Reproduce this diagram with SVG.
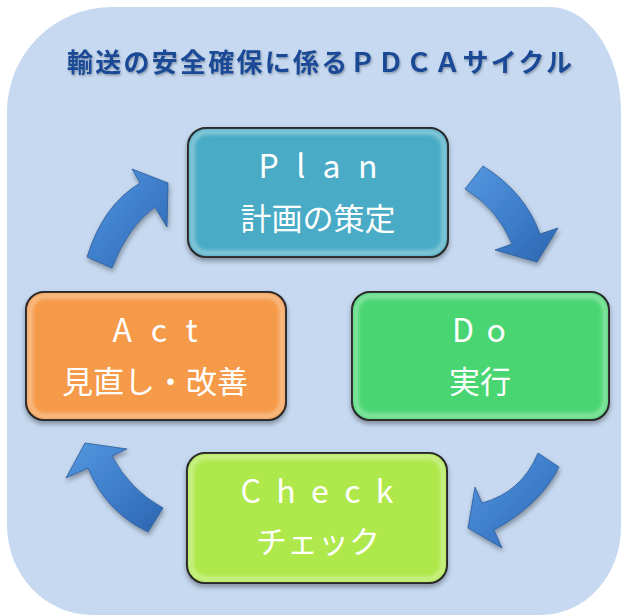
<svg xmlns="http://www.w3.org/2000/svg" width="622" height="615" viewBox="0 0 622 615">
<defs>
<style>
.lat{font-family:"Noto Sans CJK JP","Noto Sans",sans-serif;font-size:32px;fill:#fff;text-anchor:middle}
.jp{font-family:"Noto Sans CJK JP",sans-serif;font-size:31px;fill:#fff;text-anchor:middle}
.box{stroke:#1a1a1a;stroke-width:2}
.glow{fill:none;stroke:#fff;stroke-opacity:.45;stroke-width:4}
.hl{stroke-width:3.5;stroke-linecap:round}
.arrow{fill:url(#ag);stroke:#2a5a9a;stroke-width:.8;filter:url(#ash)}
</style>
<filter id="sh" x="-10%" y="-10%" width="120%" height="130%"><feDropShadow dx="0" dy="3" stdDeviation="2.5" flood-color="#000" flood-opacity=".35"/></filter>
<filter id="ash" x="-20%" y="-20%" width="140%" height="140%"><feDropShadow dx="1" dy="3" stdDeviation="2.5" flood-color="#000" flood-opacity=".35"/></filter>
<filter id="bl" x="-10%" y="-10%" width="120%" height="120%"><feGaussianBlur stdDeviation="2"/></filter>
<filter id="lg" x="-200%" y="-10%" width="500%" height="120%"><feGaussianBlur stdDeviation="1.5" result="b"/><feMerge><feMergeNode in="b"/><feMergeNode in="SourceGraphic"/></feMerge></filter>
<filter id="tsh"><feDropShadow dx="1" dy="1.5" stdDeviation="1" flood-color="#000" flood-opacity=".3"/></filter>
<linearGradient id="ag" x1="0" y1="0" x2="1" y2="1">
<stop offset="0" stop-color="#5597de"/><stop offset=".5" stop-color="#3f7fcc"/><stop offset="1" stop-color="#2c65b0"/>
</linearGradient>
</defs>
<path d="M7,112 A105,105 0 0 1 112,7 L550,7 A71,105 0 0 1 621,112 L621,527 A80,88 0 0 1 541,615 L92,615 A85,90 0 0 1 7,525 Z" fill="#c6d9f0"/>
<text x="319.5" y="72" font-family="'Noto Sans CJK JP',sans-serif" font-weight="bold" font-size="26" fill="#1a4a96" text-anchor="middle" textLength="505" lengthAdjust="spacing" filter="url(#tsh)">輸送の安全確保に係るＰＤＣＡサイクル</text>
<g id="connectors">
<path id="a-plan-do" class="arrow" d="M465,189 L483,166 Q525,192 540,234 L558,228 L537,262 L495,250 L512,244 Q497,208 465,189 Z"/>
<path id="a-do-check" class="arrow" d="M538,453 L559,467 Q540,505 494,530 L502,548 L468,528 L475,487 L482,503 Q522,492 538,453 Z"/>
<path id="a-check-act" class="arrow" d="M112,456 L127,449 L85,443 L66,478 L88,468 Q106,512 148,532 L163,508 Q130,490 112,456 Z"/>
<path id="a-act-plan" class="arrow" d="M87,257 Q103,205 140,183 L132,169 L168,183 L167,227 L155,207 Q128,226 112,268 Z"/>
</g>
<g id="plan">
<rect class="box" x="188" y="128" width="260" height="129" rx="18" fill="#4aabc5" filter="url(#sh)"/>
<rect class="glow" x="192" y="132" width="252" height="121" rx="15" filter="url(#bl)"/>
<line class="hl" x1="202" y1="145" x2="202" y2="237" stroke="#cffcff" filter="url(#lg)"/>
<line class="hl" x1="435" y1="152" x2="435" y2="240" stroke="#cffcff" filter="url(#lg)"/>
<text class="lat" x="318" y="178" textLength="119" lengthAdjust="spacing">Plan</text>
<text class="jp" x="318" y="230">計画の策定</text>
</g>
<g id="do">
<rect class="box" x="352" y="292" width="257" height="128" rx="18" fill="#48d672" filter="url(#sh)"/>
<rect class="glow" x="356" y="296" width="249" height="120" rx="15" filter="url(#bl)"/>
<line class="hl" x1="366" y1="309" x2="366" y2="400" stroke="#d6ffe0" filter="url(#lg)"/>
<line class="hl" x1="596" y1="316" x2="596" y2="403" stroke="#d6ffe0" filter="url(#lg)"/>
<text class="lat" x="479" y="342" textLength="54" lengthAdjust="spacing">Do</text>
<text class="jp" x="480" y="393">実行</text>
</g>
<g id="act">
<rect class="box" x="26" y="292" width="260" height="128" rx="18" fill="#f59a4a" filter="url(#sh)"/>
<rect class="glow" x="30" y="296" width="252" height="120" rx="15" filter="url(#bl)"/>
<line class="hl" x1="40" y1="309" x2="40" y2="400" stroke="#fffbc8" filter="url(#lg)"/>
<line class="hl" x1="273" y1="316" x2="273" y2="403" stroke="#fffbc8" filter="url(#lg)"/>
<text class="lat" x="155" y="342" textLength="85" lengthAdjust="spacing">Act</text>
<text class="jp" x="155" y="393">見直し・改善</text>
</g>
<g id="check">
<rect class="box" x="187" y="453" width="260" height="130" rx="18" fill="#aee84c" filter="url(#sh)"/>
<rect class="glow" x="191" y="457" width="252" height="122" rx="15" filter="url(#bl)"/>
<line class="hl" x1="201" y1="470" x2="201" y2="563" stroke="#fcffc8" filter="url(#lg)"/>
<line class="hl" x1="434" y1="477" x2="434" y2="566" stroke="#fcffc8" filter="url(#lg)"/>
<text class="lat" x="317" y="503" textLength="153" lengthAdjust="spacing">Check</text>
<text class="jp" x="318" y="553">チェック</text>
</g>
</svg>
